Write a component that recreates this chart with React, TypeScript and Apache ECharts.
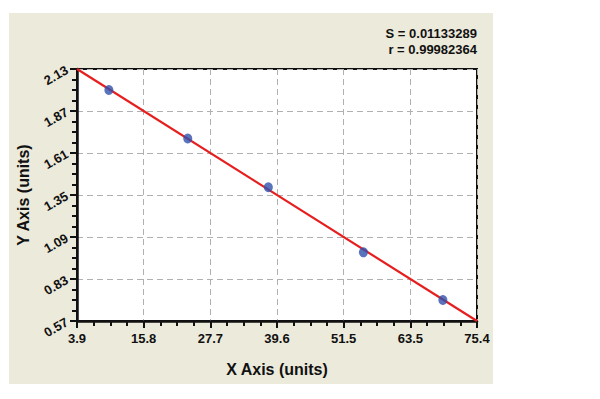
import React, { useEffect, useRef } from "react";
import * as echarts from "echarts";

const xTickLabels = ["3.9", "15.8", "27.7", "39.6", "51.5", "63.5", "75.4"];
const yTickLabels = ["0.57", "0.83", "1.09", "1.35", "1.61", "1.87", "2.13"];
const xMin = 3.9;
const xMax = 75.4;
const yMin = 0.57;
const yMax = 2.13;
const pointsX = [9.6, 23.7, 38.1, 55.1, 69.3];
const pointsY = [2.0, 1.70, 1.398, 0.995, 0.70];
const fitX = [3.9, 75.4];
const fitY = [2.13, 0.57];
const statS = "S = 0.01133289";
const statR = "r = 0.99982364";
const xName = "X Axis (units)";
const yName = "Y Axis (units)";

const FONT = "Arial, 'Liberation Sans', sans-serif";

export default function App() {
  const ref = useRef<HTMLDivElement>(null);
  useEffect(() => {
    if (!ref.current) return;
    const chart = echarts.init(ref.current, null, { renderer: "svg" });
    const xInterval = (xMax - xMin) / (xTickLabels.length - 1);
    const yInterval = (yMax - yMin) / (yTickLabels.length - 1);
    chart.setOption({
      animation: false,
      backgroundColor: "#ffffff",
      graphic: [
        {
          type: "rect",
          z: -10,
          silent: true,
          shape: { x: 9, y: 13, width: 484, height: 371 },
          style: { fill: "#ECEADB" },
        },
        {
          type: "text",
          x: 477,
          y: 33,
          style: {
            text: statS,
            fill: "#111111",
            font: `bold 13px ${FONT}`,
            align: "right",
            verticalAlign: "middle",
          },
        },
        {
          type: "text",
          x: 477,
          y: 49,
          style: {
            text: statR,
            fill: "#111111",
            font: `bold 13px ${FONT}`,
            align: "right",
            verticalAlign: "middle",
          },
        },
      ],
      grid: {
        left: 77,
        top: 69,
        width: 400,
        height: 252,
        show: true,
        backgroundColor: "#ffffff",
        borderColor: "#111111",
        borderWidth: 2,
      },
      xAxis: {
        type: "value",
        min: xMin,
        max: xMax,
        interval: xInterval,
        name: xName,
        nameLocation: "middle",
        nameGap: 40,
        nameTextStyle: { fontFamily: FONT, fontWeight: "bold", fontSize: 16, color: "#111111" },
        axisLine: { show: true, lineStyle: { color: "#111111", width: 2.5 } },
        axisTick: { show: true, length: 7, lineStyle: { color: "#111111", width: 2 } },
        minorTick: { show: true, splitNumber: 4, length: 5, lineStyle: { color: "#111111", width: 2 } },
        axisLabel: {
          margin: 11,
          fontFamily: FONT,
          fontWeight: "bold",
          fontSize: 13,
          color: "#111111",
          formatter: (v: number) => xTickLabels[Math.round((v - xMin) / xInterval)] ?? "",
        },
        splitLine: { show: true, lineStyle: { color: "#b0b0b0", type: [6, 4], width: 1 } },
      },
      yAxis: {
        type: "value",
        min: yMin,
        max: yMax,
        interval: yInterval,
        name: yName,
        nameLocation: "middle",
        nameGap: 40,
        nameTextStyle: { fontFamily: FONT, fontWeight: "bold", fontSize: 16, color: "#111111" },
        axisLine: { show: true, lineStyle: { color: "#111111", width: 2.5 } },
        axisTick: { show: true, length: 7, lineStyle: { color: "#111111", width: 2 } },
        minorTick: { show: true, splitNumber: 4, length: 5, lineStyle: { color: "#111111", width: 2 } },
        axisLabel: {
          rotate: 30,
          margin: 10,
          fontFamily: FONT,
          fontWeight: "bold",
          fontSize: 13,
          color: "#111111",
          formatter: (v: number) => yTickLabels[Math.round((v - yMin) / yInterval)] ?? "",
        },
        splitLine: { show: true, lineStyle: { color: "#b0b0b0", type: [6, 4], width: 1 } },
      },
      series: [
        {
          type: "line",
          data: fitX.map((x, i) => [x, fitY[i]]),
          symbol: "none",
          lineStyle: { color: "#E61E1E", width: 2.2 },
          z: 3,
        },
        {
          type: "scatter",
          data: pointsX.map((x, i) => [x, pointsY[i]]),
          symbol: "circle",
          symbolSize: [9, 10],
          itemStyle: { color: "#3050AC" },
          z: 4,
        },
      ],
    });
    return () => chart.dispose();
  }, []);
  return (
    <div
      ref={ref}
      style={{ position: "fixed", left: 0, top: 0, width: 600, height: 399 }}
    />
  );
}
